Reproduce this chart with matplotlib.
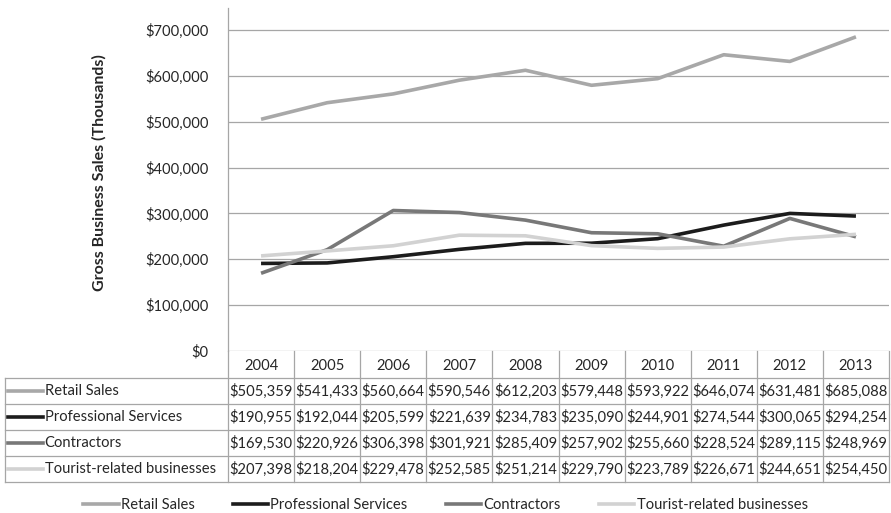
import matplotlib.pyplot as plt
from matplotlib.lines import Line2D

plt.rcParams['font.family'] = ['Lato', 'DejaVu Sans']

# Gross business sales by sector, in thousands of dollars
years = ['2004', '2005', '2006', '2007', '2008', '2009', '2010', '2011', '2012', '2013']
retail = [505359, 541433, 560664, 590546, 612203, 579448, 593922, 646074, 631481, 685088]
professional = [190955, 192044, 205599, 221639, 234783, 235090, 244901, 274544, 300065, 294254]
contractors = [169530, 220926, 306398, 301921, 285409, 257902, 255660, 228524, 289115, 248969]
tourist = [207398, 218204, 229478, 252585, 251214, 229790, 223789, 226671, 244651, 254450]

names = ['Retail Sales', 'Professional Services', 'Contractors', 'Tourist-related businesses']
colors = ['#a8a8a8', '#1c1c1c', '#787878', '#d2d2d2']
series = [retail, professional, contractors, tourist]

W, H = 891, 513
fig = plt.figure(figsize=(W / 100, H / 100), dpi=100)

def px_axes(x0, y0, x1, y1):
    return fig.add_axes([x0 / W, 1 - y1 / H, (x1 - x0) / W, (y1 - y0) / H])

grid_c = '#a6a6a6'
txt_c = '#262626'
fs = 10.6

# line chart
ax = px_axes(228, 8, 889, 351)
x = range(len(years))
for vals, c in zip(series, colors):
    ax.plot(x, vals, color=c, lw=2.6, solid_capstyle='butt')
ax.set_xlim(-0.5, len(years) - 0.5)
ax.set_ylim(0, 748000)
ax.set_yticks(range(0, 700001, 100000))
ax.set_yticklabels([f'${v:,}' for v in range(0, 700001, 100000)], fontsize=fs, color=txt_c)
ax.tick_params(axis='y', length=0, pad=14)
ax.set_xticks([])
ax.grid(axis='y', color=grid_c, lw=0.9)
ax.set_axisbelow(True)
for s in ['top', 'right', 'bottom']:
    ax.spines[s].set_visible(False)
ax.spines['left'].set_color(grid_c)
ax.spines['left'].set_linewidth(0.9)
ax.set_ylabel('Gross Business Sales (Thousands)', fontsize=11.5, fontweight='bold',
              color=txt_c)
ax.yaxis.set_label_coords(-0.183, 0.52)

# data table underneath
label_w = 223 / 66.1
tx = px_axes(5, 351, 889, 482)
tx.set_xlim(-0.5 - label_w, len(years) - 0.5)
tx.set_ylim(131, 0)
tx.axis('off')
head_h = 27
row_h = (131 - head_h) / len(names)
lkw = dict(color=grid_c, lw=0.9, clip_on=False)

# header row: year labels with separators
for i in range(len(years) + 1):
    tx.plot([i - 0.5, i - 0.5], [0, 131], **lkw)
for i, yr in enumerate(years):
    tx.text(i, head_h / 2 + 1, yr, ha='center', va='center', fontsize=fs, color=txt_c)

# body rows
x_left = -0.5 - label_w
tx.plot([x_left, x_left], [head_h, 131], **lkw)
for r in range(len(names) + 1):
    tx.plot([x_left, len(years) - 0.5], [head_h + r * row_h] * 2, **lkw)
for r, (name, vals, c) in enumerate(zip(names, series, colors)):
    yc = head_h + (r + 0.5) * row_h
    tx.plot([x_left + 0.04, x_left + 0.57], [yc, yc], color=c, lw=2.6)
    tx.text(x_left + 0.6, yc, name, ha='left', va='center', fontsize=fs, color=txt_c)
    for i, v in enumerate(vals):
        tx.text(i, yc, f'${v:,}', ha='center', va='center', fontsize=fs, color=txt_c)

# legend
handles = [Line2D([], [], color=c, lw=2.6) for c in colors]
fig.legend(handles, names, loc='center', bbox_to_anchor=(0.5, 1 - 505 / H), ncol=4,
           frameon=False, fontsize=fs, handlelength=2.4, handletextpad=0.15,
           columnspacing=2.6, labelcolor=txt_c)

fig.savefig('out.png', dpi=100)
